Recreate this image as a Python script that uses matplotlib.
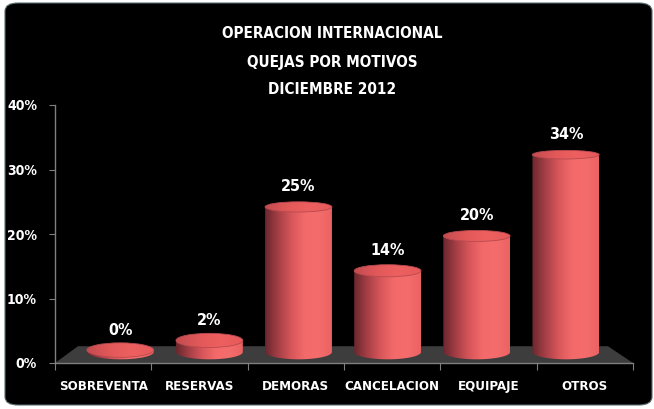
import numpy as np
import matplotlib.pyplot as plt
from matplotlib.patches import FancyBboxPatch, Ellipse, Polygon, PathPatch
from matplotlib.path import Path
from matplotlib.colors import LinearSegmentedColormap

plt.rcParams['font.family'] = ['DejaVu Sans']
plt.rcParams['font.stretch'] = 'condensed'
plt.rcParams['font.weight'] = 'bold'

# datos
categorias = ['SOBREVENTA', 'RESERVAS', 'DEMORAS', 'CANCELACION', 'EQUIPAJE', 'OTROS']
porcentajes = [0, 2, 25, 14, 20, 34]
ticks_y = [0, 10, 20, 30, 40]
titulo = ['OPERACION INTERNACIONAL', 'QUEJAS POR MOTIVOS', 'DICIEMBRE 2012']

W, H = 654, 409
fig = plt.figure(figsize=(W / 100, H / 100), dpi=100)
fig.patch.set_facecolor('white')

# fondo negro redondeado
fondo = FancyBboxPatch((5 / W, 4 / H), 647 / W, 402 / H,
                       boxstyle='round,pad=0,rounding_size=0.02',
                       transform=fig.transFigure, facecolor='black',
                       edgecolor='#5a6b70', linewidth=0.8, zorder=-5)
fig.patches.append(fondo)

ax = fig.add_axes([55 / W, (H - 363) / H, 578 / W, 258 / H])
ax.set_facecolor('none')
n = len(categorias)
ax.set_xlim(0, n)
ax.set_ylim(0, 40)

# escala en pixeles por unidad de datos
px_y = 258 / 40

# perspectiva: fondo del piso y barras mas atras
cx = 2.87
esc = 0.925
fondo_y = 2.6
base_y = 1.7
esc_alto = 0.9

# piso gris
piso = Polygon([(0, 0), (n, 0), (cx + (n - cx) * 0.917, fondo_y), (cx + (0 - cx) * 0.917, fondo_y)],
               closed=True, facecolor='#3d3d3d', edgecolor='none', zorder=1)
ax.add_patch(piso)

cmap_cuerpo = LinearSegmentedColormap.from_list(
    'cuerpo', ['#6a272e', '#a63f46', '#d8575a', '#f46a6a', '#f56c6c', '#ec6262'])
cmap_tapa = LinearSegmentedColormap.from_list(
    'tapa', ['#c34b50', '#e25859', '#ee6060', '#e65a5b'])
grad = np.linspace(0, 1, 256).reshape(1, -1)

ancho = 0.75 * esc


def alto_elipse(y):
    ypx = 363 - y * px_y
    return (8.5 + (ypx - 150) * 0.03) / px_y


for i, v in enumerate(porcentajes):
    xc = cx + (i + 0.5 - cx) * esc
    x0, x1 = xc - ancho / 2, xc + ancho / 2
    # un pequeño grosor para que el disco de 0% se vea
    yt = base_y + max(v * esc_alto, 0.3)
    hb = alto_elipse(base_y)
    ht = alto_elipse(yt)

    # cuerpo del cilindro: rectangulo + media elipse inferior
    t = np.linspace(np.pi, 2 * np.pi, 60)
    abajo = np.column_stack([xc + ancho / 2 * np.cos(t), base_y + hb / 2 * np.sin(t)])
    verts = np.vstack([[x0, yt], abajo, [x1, yt], [x0, yt]])
    clip = PathPatch(Path(verts), facecolor='none', edgecolor='none', transform=ax.transData)
    ax.add_patch(clip)
    im = ax.imshow(grad, cmap=cmap_cuerpo, extent=[x0, x1, base_y - hb, yt + 0.01],
                   aspect='auto', zorder=2, interpolation='bilinear')
    im.set_clip_path(clip)

    # tapa superior
    tapa = Ellipse((xc, yt), ancho, ht, transform=ax.transData,
                   facecolor='none', edgecolor='none')
    ax.add_patch(tapa)
    im2 = ax.imshow(grad, cmap=cmap_tapa, extent=[x0, x1, yt - ht / 2, yt + ht / 2],
                    aspect='auto', zorder=3, interpolation='bilinear')
    im2.set_clip_path(tapa)
    ax.add_patch(Ellipse((xc, yt), ancho, ht, facecolor='none',
                         edgecolor='#b84a4e', linewidth=0.6, zorder=4))

    ax.text(xc, yt + 20 / px_y, f'{v}%', color='white', fontsize=11.5,
            fontweight='bold', ha='center', va='center', zorder=5)

ax.set_xlim(0, n)
ax.set_ylim(0, 40)

for lado in ['top', 'right']:
    ax.spines[lado].set_visible(False)
for lado in ['left', 'bottom']:
    ax.spines[lado].set_color('#7f7f7f')
    ax.spines[lado].set_linewidth(1)
    ax.spines[lado].set_zorder(1.5)

ax.set_yticks(ticks_y)
ax.set_yticklabels([f'{t}%' for t in ticks_y])
ax.tick_params(axis='y', colors='#7f7f7f', length=4, pad=9, labelcolor='white', labelsize=10)

ax.set_xticks(np.arange(n + 1))
ax.set_xticklabels([])
ax.set_xticks(np.arange(n) + 0.5, minor=True)
ax.set_xticklabels(categorias, minor=True)
ax.tick_params(axis='x', which='major', colors='#7f7f7f', length=5)
ax.tick_params(axis='x', which='minor', length=0, pad=12, labelcolor='white', labelsize=9.5)

for linea, ypx in zip(titulo, [33, 62, 90]):
    fig.text(332 / W, 1 - ypx / H, linea, color='white', fontsize=11, fontweight='bold',
             ha='center', va='center')

fig.savefig('out.png', dpi=100, facecolor=fig.get_facecolor())
